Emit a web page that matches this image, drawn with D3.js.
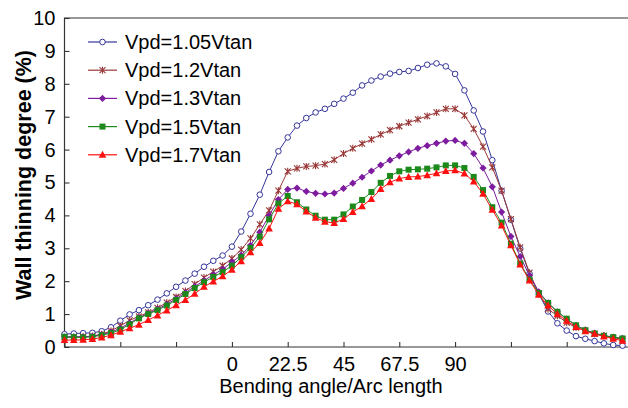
<!DOCTYPE html>
<html>
<head>
<meta charset="utf-8">
<script src="https://cdn.jsdelivr.net/npm/d3@7"></script>
<style>
  body { margin: 0; background: #fff; }
  svg text { font-family: Arial, "Liberation Sans", sans-serif; fill: #000; }
</style>
</head>
<body>
<script>
// x positions: bending angle (deg), one value per marker
var angles = [-67.5, -63.75, -60, -56.25, -52.5, -48.75, -45, -41.25, -37.5, -33.75,
  -30, -26.25, -22.5, -18.75, -15, -11.25, -7.5, -3.75, 0, 3.75,
  7.5, 11.25, 15, 18.75, 22.5, 26.25, 30, 33.75, 37.5, 41.25,
  45, 48.75, 52.5, 56.25, 60, 63.75, 67.5, 71.25, 75, 78.75,
  82.5, 86.25, 90, 93.75, 97.5, 101.25, 105, 108.75, 112.5, 116.25,
  120, 123.75, 127.5, 131.25, 135, 138.75, 142.5, 146.25, 150, 153.75, 157.5];

// wall thinning degree (%) for each series
var v105 = [0.39, 0.41, 0.42, 0.43, 0.48, 0.6, 0.8, 0.99, 1.12, 1.27,
  1.44, 1.63, 1.83, 2.02, 2.23, 2.44, 2.62, 2.78, 3.05, 3.51,
  4.05, 4.63, 5.32, 5.95, 6.37, 6.73, 6.96, 7.13, 7.24, 7.39,
  7.55, 7.73, 7.95, 8.1, 8.22, 8.31, 8.36, 8.39, 8.48, 8.58,
  8.62, 8.53, 8.3, 7.8, 7.19, 6.55, 5.68, 4.75, 3.87, 2.99,
  2.23, 1.61, 1.08, 0.72, 0.5, 0.33, 0.25, 0.18, 0.11, 0.06, 0.04];
var v12 = [0.29, 0.3, 0.31, 0.33, 0.39, 0.49, 0.64, 0.81, 0.93, 1.05,
  1.19, 1.35, 1.52, 1.7, 1.91, 2.11, 2.29, 2.47, 2.69, 2.96,
  3.3, 3.73, 4.15, 4.75, 5.34, 5.43, 5.49, 5.51, 5.56, 5.69,
  5.88, 6.04, 6.18, 6.31, 6.46, 6.59, 6.71, 6.82, 6.92, 7.02,
  7.13, 7.24, 7.24, 7.04, 6.63, 6.09, 5.46, 4.75, 3.89, 3.03,
  2.26, 1.62, 1.15, 0.95, 0.74, 0.59, 0.5, 0.4, 0.34, 0.28, 0.24];
var v13 = [0.31, 0.31, 0.31, 0.33, 0.38, 0.45, 0.57, 0.73, 0.89, 1.02,
  1.15, 1.3, 1.47, 1.65, 1.84, 2.02, 2.2, 2.36, 2.58, 2.79,
  3.09, 3.49, 4.0, 4.48, 4.79, 4.83, 4.73, 4.67, 4.65, 4.68,
  4.82, 4.98, 5.16, 5.35, 5.53, 5.68, 5.81, 5.93, 6.04, 6.12,
  6.19, 6.26, 6.28, 6.19, 5.88, 5.44, 4.87, 4.1, 3.36, 2.75,
  2.17, 1.68, 1.34, 1.07, 0.85, 0.66, 0.52, 0.42, 0.35, 0.3, 0.26];
var v15 = [0.31, 0.3, 0.29, 0.31, 0.36, 0.42, 0.53, 0.69, 0.87, 1.0,
  1.12, 1.26, 1.43, 1.61, 1.79, 1.97, 2.13, 2.28, 2.47, 2.73,
  3.01, 3.35, 3.88, 4.36, 4.59, 4.4, 4.18, 3.99, 3.87, 3.87,
  4.03, 4.27, 4.47, 4.71, 4.99, 5.2, 5.34, 5.39, 5.4, 5.42,
  5.46, 5.52, 5.52, 5.44, 5.17, 4.77, 4.25, 3.78, 3.14, 2.54,
  2.05, 1.64, 1.34, 1.07, 0.86, 0.66, 0.51, 0.41, 0.34, 0.3, 0.26];
var v17 = [0.21, 0.21, 0.22, 0.24, 0.29, 0.36, 0.46, 0.57, 0.68, 0.82,
  0.96, 1.11, 1.27, 1.43, 1.62, 1.83, 1.99, 2.15, 2.35, 2.61,
  2.88, 3.16, 3.6, 4.2, 4.43, 4.34, 4.12, 3.93, 3.81, 3.77,
  3.89, 4.1, 4.28, 4.5, 4.8, 5.01, 5.12, 5.17, 5.18, 5.22,
  5.28, 5.35, 5.37, 5.27, 5.03, 4.66, 4.17, 3.69, 3.09, 2.51,
  2.02, 1.59, 1.26, 1.0, 0.8, 0.61, 0.48, 0.4, 0.32, 0.25, 0.19];

var seriesNames = ["Vpd=1.05Vtan", "Vpd=1.2Vtan", "Vpd=1.3Vtan", "Vpd=1.5Vtan", "Vpd=1.7Vtan"];
var seriesValues = [v105, v12, v13, v15, v17];
var seriesColors = ["#34359a", "#9a3838", "#7d1c9e", "#1b8a1b", "#ff1010"];
var seriesMarkers = ["circle", "star", "diamond", "square", "triangle"];

var xTicks = [-67.5, -45, -22.5, 0, 22.5, 45, 67.5, 90, 112.5, 135, 157.5];
var xLabelled = [0, 22.5, 45, 67.5, 90];
var yTicks = [0, 1, 2, 3, 4, 5, 6, 7, 8, 9, 10];

var width = 628, height = 408;
var plotLeft = 64.5, plotRight = 622.5, plotTop = 18, plotBottom = 347;

var svg = d3.select("body").append("svg").attr("width", width).attr("height", height);

var x = d3.scaleLinear().domain([-67.5, 157.5]).range([plotLeft, plotRight]);
var y = d3.scaleLinear().domain([0, 10]).range([plotBottom, plotTop]);

// axes, ticks pointing inside
var xAxis = d3.axisBottom(x).tickValues(xTicks).tickSizeInner(-5).tickSizeOuter(0)
  .tickFormat(function(d) { return xLabelled.indexOf(d) >= 0 ? String(d) : ""; });
var gx = svg.append("g").attr("transform", "translate(0," + plotBottom + ")").call(xAxis);
gx.select(".domain").remove();
gx.selectAll("text").attr("dy", null).attr("y", 24).style("font-size", "20px");

var yAxis = d3.axisLeft(y).tickValues(yTicks).tickSizeInner(-5).tickSizeOuter(0);
var gy = svg.append("g").attr("transform", "translate(" + plotLeft + ",0)").call(yAxis);
gy.select(".domain").remove();
gy.selectAll("text").attr("x", -9).style("font-size", "20px");
svg.selectAll(".tick line").attr("stroke", "#222");

// frame
svg.append("path")
  .attr("d", "M" + width + "," + plotTop + "H" + plotLeft + "V" + plotBottom + "H" + width)
  .attr("fill", "none").attr("stroke", "#333").attr("stroke-width", 1.2);

// axis titles
svg.append("text").text("Bending angle/Arc length")
  .attr("x", 331).attr("y", 393).attr("text-anchor", "middle").style("font-size", "20px");
svg.append("text").text("Wall thinning degree (%)")
  .attr("transform", "translate(31,175) rotate(-90)").attr("text-anchor", "middle")
  .style("font-size", "21.5px").style("font-weight", "bold");

function drawMarker(g, kind, color) {
  if (kind === "circle") {
    g.append("circle").attr("r", 2.8).attr("fill", "#fff").attr("stroke", color).attr("stroke-width", 1);
  } else if (kind === "star") {
    g.append("path").attr("d", "M-3,-3L3,3M-3,3L3,-3M0,-3.5V3.5")
      .attr("stroke", color).attr("stroke-width", 1.1).attr("fill", "none");
  } else if (kind === "diamond") {
    g.append("path").attr("d", "M0,-3.6L3.6,0L0,3.6L-3.6,0Z").attr("fill", color);
  } else if (kind === "square") {
    g.append("rect").attr("x", -3).attr("y", -3).attr("width", 6).attr("height", 6).attr("fill", color);
  } else {
    g.append("path").attr("d", "M0,-4L3.8,3L-3.8,3Z").attr("fill", color);
  }
}

var line = d3.line().x(function(d) { return x(d[0]); }).y(function(d) { return y(d[1]); });

seriesValues.forEach(function(vals, si) {
  var pts = angles.map(function(a, i) { return [a, vals[i]]; });
  var color = seriesColors[si];
  svg.append("path").datum(pts).attr("d", line)
    .attr("fill", "none").attr("stroke", color).attr("stroke-width", 1);
  svg.append("g").selectAll("g").data(pts).enter().append("g")
    .attr("transform", function(d) { return "translate(" + x(d[0]) + "," + y(d[1]) + ")"; })
    .each(function() { drawMarker(d3.select(this), seriesMarkers[si], color); });
});

// legend
var legend = svg.append("g");
seriesNames.forEach(function(name, i) {
  var ly = 42 + i * 28.2;
  legend.append("line").attr("x1", 88).attr("x2", 117).attr("y1", ly).attr("y2", ly)
    .attr("stroke", seriesColors[i]).attr("stroke-width", 1.2);
  var m = legend.append("g").attr("transform", "translate(102.5," + ly + ")");
  drawMarker(m, seriesMarkers[i], seriesColors[i]);
  legend.append("text").text(name).attr("x", 125).attr("y", ly + 7).style("font-size", "20px");
});
</script>
</body>
</html>
